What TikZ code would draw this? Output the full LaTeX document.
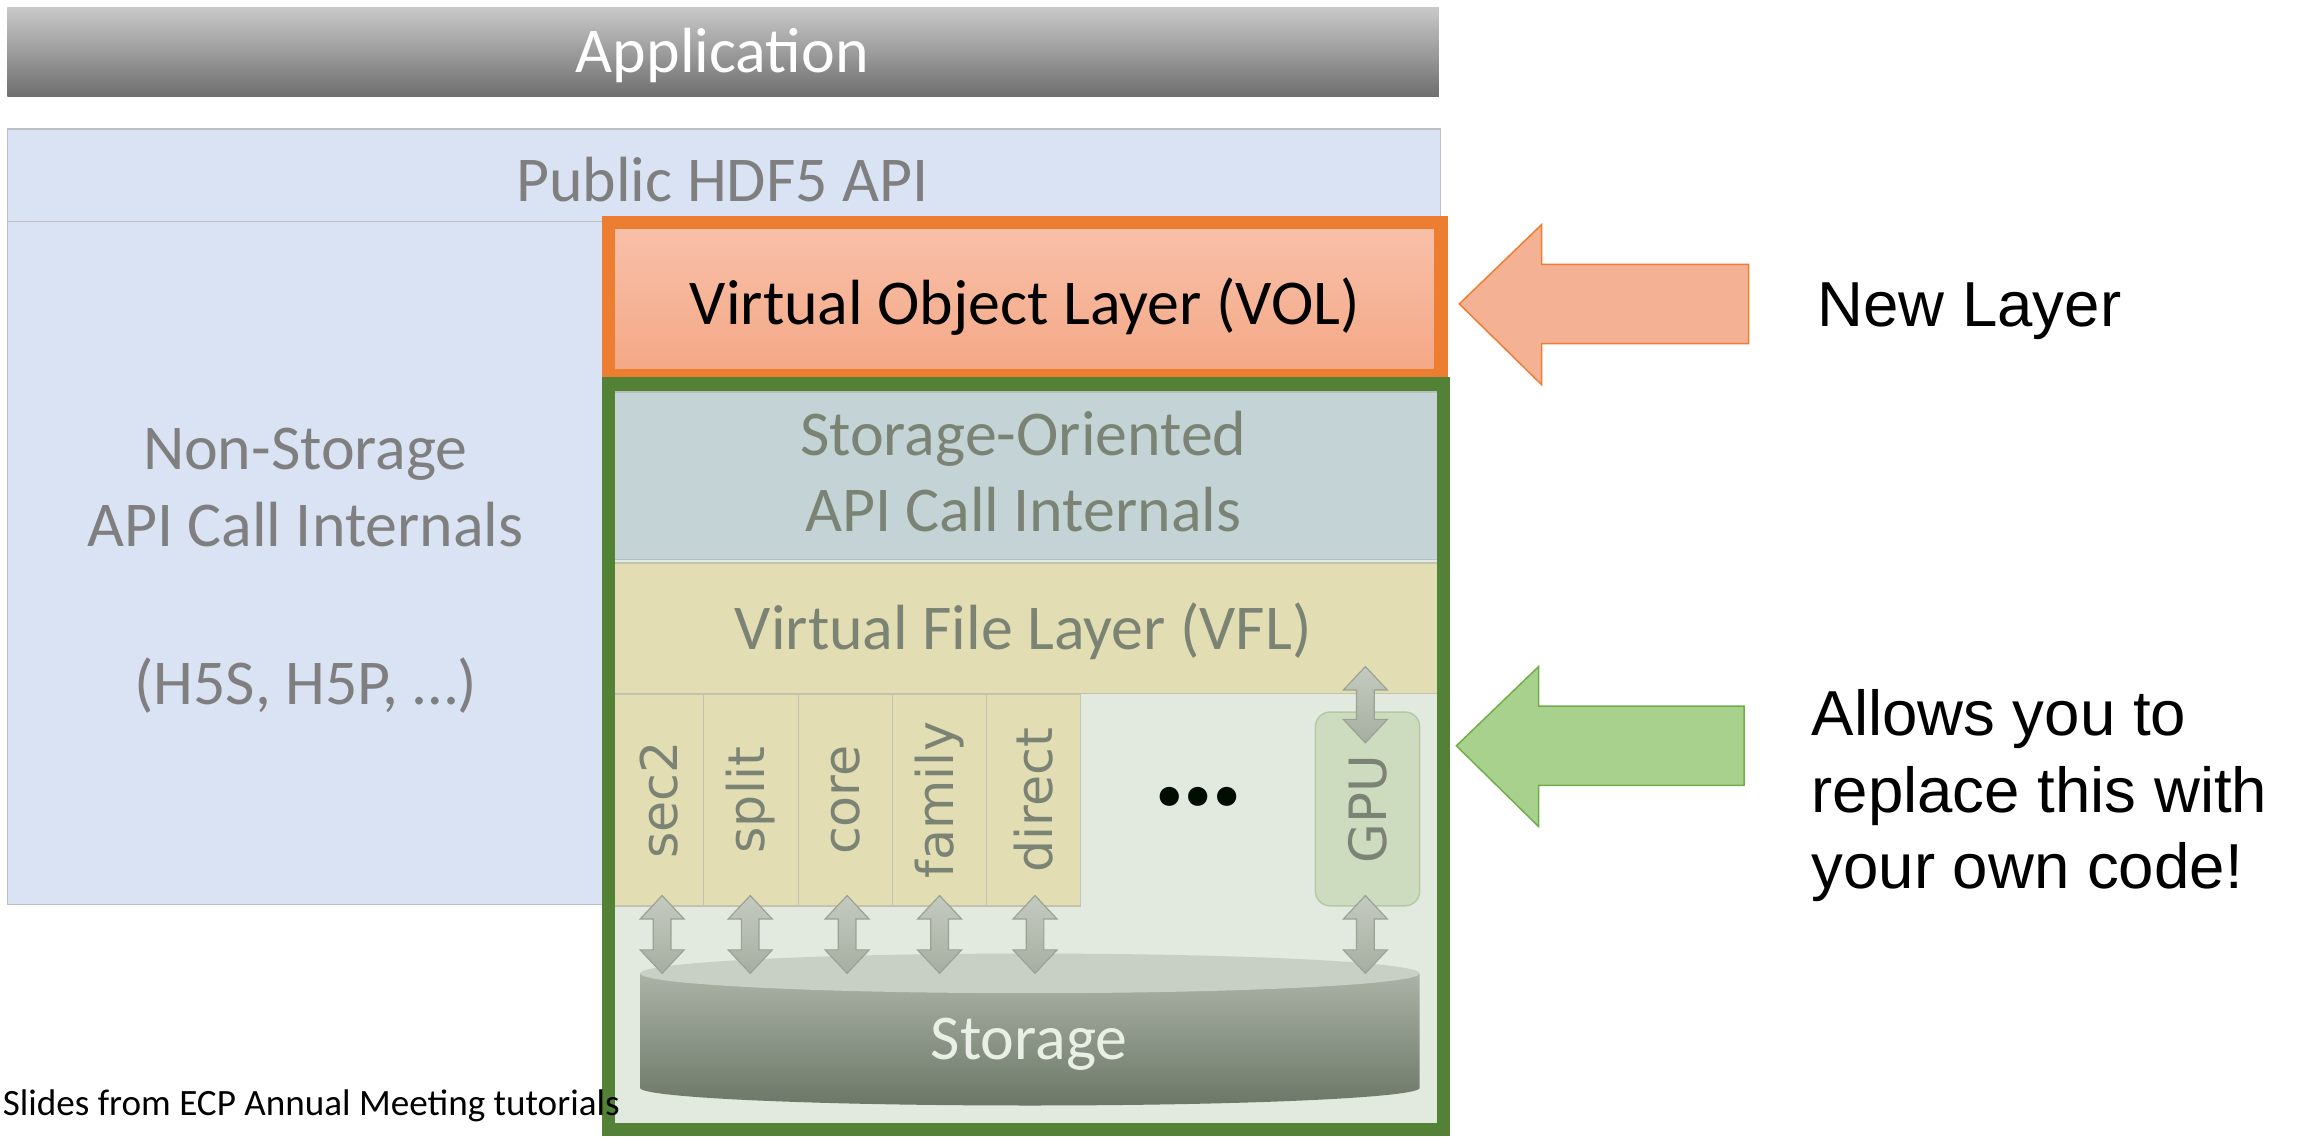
\documentclass[tikz,border=0pt]{standalone}
\usepackage{fontspec}
\setmainfont{Carlito}
\newfontfamily\arialf{Liberation Sans}
\newfontfamily\verdf{DejaVu Sans}
\definecolor{appTop}{HTML}{C9C9C9}
\definecolor{appBot}{HTML}{6E6E6E}
\definecolor{apiFill}{HTML}{DAE3F3}
\definecolor{apiLine}{HTML}{BFBFBF}
\definecolor{grayTxt}{HTML}{7F7F7F}
\definecolor{greenTxt}{HTML}{7B8474}
\definecolor{orangeC}{HTML}{ED7D31}
\definecolor{volTop}{HTML}{F8C1AA}
\definecolor{volBot}{HTML}{F4A785}
\definecolor{greenC}{HTML}{538135}
\definecolor{frameFill}{HTML}{E2EADF}
\definecolor{soaFill}{HTML}{C3D3D6}
\definecolor{soaLine}{HTML}{B4BEBC}
\definecolor{vflFill}{HTML}{E3DDB3}
\definecolor{vflLine}{HTML}{C2C2B0}
\definecolor{gpuFill}{HTML}{CDDCBF}
\definecolor{gpuLine}{HTML}{B5C8A5}
\definecolor{dblTop}{HTML}{C4CABF}
\definecolor{dblBot}{HTML}{A6AEA1}
\definecolor{dblLine}{HTML}{9AA294}
\definecolor{stTop}{HTML}{AAB3A5}
\definecolor{stBot}{HTML}{6D7768}
\definecolor{stLid}{HTML}{C8CFC4}
\definecolor{stTxt}{HTML}{E9EFE4}
\definecolor{oArrFill}{HTML}{F4B194}
\definecolor{gArrFill}{HTML}{A9D18E}
\definecolor{gArrLine}{HTML}{70AD47}
\newcommand\bigtxt{\fontsize{43.5}{52}\selectfont}
\newcommand\drvtxt{\verdf\fontsize{34.5}{40}\selectfont}
\newcommand\dblarr[3]{%
  \shade[dblshape] (#1,#2) -- (#1+15,#2+16) -- (#1+6,#2+16) -- (#1+6,#3-16)
    -- (#1+15,#3-16) -- (#1,#3) -- (#1-15,#3-16) -- (#1-6,#3-16)
    -- (#1-6,#2+16) -- (#1-15,#2+16) -- cycle;}
\begin{document}
\begin{tikzpicture}[x=1pt,y=-1pt,
  box/.style={inner sep=0pt, outer sep=0pt},
  apibox/.style={box, fill=apiFill, draw=apiLine, line width=1pt},
  drvbox/.style={box, fill=vflFill, draw=vflLine, line width=1pt, rotate=90,
     minimum height=#1, minimum width=144pt, text=greenTxt, font=\drvtxt},
  dblshape/.style={top color=dblTop, bottom color=dblBot, draw=dblLine, line width=0.8pt},
  bigarrow/.style={line width=1pt}]
\useasboundingbox (0,0) rectangle (1568,774);
\fill[white] (0,0) rectangle (1568,774);

% Application bar
\node[box, top color=appTop, bottom color=appBot, minimum width=975pt, minimum height=61pt] (app) at (492.5,35.5) {};
\node[box, text=white, font=\bigtxt] (apptxt) at (492,37.5) {Application};

% Public API
\node[apibox, minimum width=976pt, minimum height=63pt] (api) at (493,119.5) {};
\node[box, text=grayTxt, font=\bigtxt] (apitxt) at (492,122) {Public HDF5 API};
\node[apibox, minimum width=410pt, minimum height=465pt] (nsbox) at (210,383.5) {};
\node[box, align=center, text=grayTxt, font=\bigtxt] (nstxt) at (208,389)
   {Non-Storage\\API Call Internals\\[56pt](H5S, H5P, …)};

% VOL
\node[box, top color=volTop, bottom color=volBot, minimum width=567pt, minimum height=104.5pt]
   (vol) at (698,203.75) {};
\node[box, font=\bigtxt, text=black] (voltxt) at (698,209) {Virtual Object Layer (VOL)};

% green frame interior
\node[box, fill=frameFill, minimum width=568.5pt, minimum height=508pt] (gfr) at (698.75,515.5) {};

% storage oriented
\node[box, fill=soaFill, draw=soaLine, line width=1pt, minimum width=561pt, minimum height=114pt] (soa) at (698.5,324) {};
\node[box, align=center, text=greenTxt, font=\bigtxt] (soatxt) at (697,321) {Storage-Oriented\\API Call Internals};
% VFL
\node[box, fill=vflFill, draw=vflLine, line width=1pt, minimum width=561pt, minimum height=89pt] (vfl) at (698.5,428) {};
\node[box, text=greenTxt, font=\bigtxt] (vfltxt) at (697,430) {Virtual File Layer (VFL)};

% drivers
\node[drvbox=60.4pt] (sec2) at (448.8,545) {sec2};
\node[drvbox=65pt] (split) at (511.5,545) {split};
\node[drvbox=64pt] (core) at (576,545) {core};
\node[drvbox=64pt] (family) at (640,545) {family};
\node[drvbox=64pt] (direct) at (704,545) {direct};

\node[box, font=\fontsize{88}{88}\selectfont\bfseries, text=black!95!green] (dots) at (816,543) {…};

% GPU
\node[box, fill=gpuFill, draw=gpuLine, line width=1pt, rounded corners=10pt, rotate=90,
      minimum width=132pt, minimum height=71pt, text=greenTxt, font=\verdf\fontsize{35}{40}\selectfont]
   (gpu) at (931.5,551) {GPU};

% storage cylinder
\shade[top color=stTop, bottom color=stBot] (436,663) -- (436,741)
   arc[start angle=180, end angle=360, x radius=265.5pt, y radius=12pt] -- (967,663) -- cycle;
\fill[stLid] (701.5,663) ellipse [x radius=265.5pt, y radius=13.5pt];
\node[box, font=\fontsize{43.5}{48}\selectfont, text=stTxt] (sttxt) at (701,711) {Storage};

% double arrows
\dblarr{451}{610}{663}
\dblarr{511}{610}{663}
\dblarr{577}{610}{663}
\dblarr{640}{610}{663}
\dblarr{705}{610}{663}
\dblarr{930}{610}{663}
\dblarr{930}{454}{506}

% frames
\draw[orangeC, line width=9pt] (414.5,151.5) rectangle (981.5,256);
\draw[greenC, line width=9pt] (414.5,261.5) rectangle (983,769.5);

% side arrows
\filldraw[bigarrow, fill=oArrFill, draw=orangeC] (994,207) -- (1050,153) -- (1050,180) -- (1191,180)
   -- (1191,234) -- (1050,234) -- (1050,262) -- cycle;
\filldraw[bigarrow, fill=gArrFill, draw=gArrLine] (992,508) -- (1048,454) -- (1048,481) -- (1188,481)
   -- (1188,535) -- (1048,535) -- (1048,563) -- cycle;

\node[box, anchor=west, font=\arialf\fontsize{43.3}{52}\selectfont] (newl) at (1238,212) {New Layer};
\node[box, anchor=west, align=left, font=\arialf\fontsize{43.3}{52}\selectfont] (allow) at (1234,542)
   {Allows you to\\replace this with\\your own code!};

\node[box, anchor=west, font=\fontsize{25.3}{30}\selectfont] (slides) at (2,753)
   {Slides from ECP Annual Meeting tutorials};
\end{tikzpicture}
\end{document}
